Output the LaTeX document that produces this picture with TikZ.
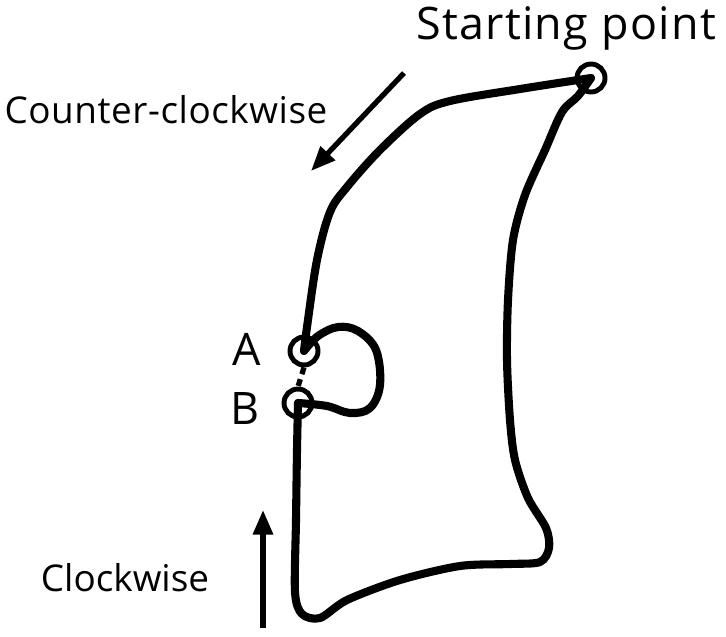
\documentclass[tikz,border=0pt]{standalone}
\usepackage{fontspec}
\setmainfont{Open Sans}
\usetikzlibrary{arrows.meta}
\begin{document}
\begin{tikzpicture}[x=0.02cm,y=-0.02cm,
  route/.style={line width=4.6pt,line cap=round,line join=round},
  marker/.style={circle,draw,line width=2.8pt,minimum size=28*0.02cm,inner sep=0pt},
  dirarrow/.style={line width=3pt,-{Triangle[length=14pt,width=11pt]}},
  lbl/.style={font=\fontsize{21.5}{24}\selectfont,inner sep=0pt}]
\useasboundingbox (0,0) rectangle (726,636);
% markers
\node[marker] (S) at (591,78) {};
\node[marker] (A) at (304,351) {};
\node[marker] (B) at (298,403) {};
% labels
\node[lbl,font=\fontsize{25.5}{28}\selectfont\addfontfeatures{LetterSpace=3}] (ts) at (566,28) {Starting point};
\node[lbl,font=\fontsize{21}{24}\selectfont\addfontfeatures{LetterSpace=1.5}] (tcc) at (166,110) {Counter-clockwise};
\node[lbl,font=\fontsize{21}{24}\selectfont] (tc) at (125,578) {Clockwise};
\node[lbl,font=\fontsize{25.5}{28}\selectfont] (ta) at (247,349) {A};
\node[lbl,font=\fontsize{25.5}{28}\selectfont] (tb) at (245,408) {B};
% route: start -> A (counter-clockwise side)
\draw[route] plot[smooth,tension=0.55] coordinates {(S.center) (520,89) (450,101) (420,114) (380,150) (347,187) (330,212) (317,260) (307,327) (A.center)};
% loop A -> B
\draw[route] plot[smooth,tension=0.6] coordinates {(A.center) (318,336) (338,327) (358,331) (376,350) (380,385) (370,408) (350,413) (327,406) (B.center)};
% dotted link
\draw[line width=3pt,dash pattern=on 4pt off 3pt] (A.south) -- (B.north);
% route: B -> bottom -> right side -> start
\draw[route] plot[smooth,tension=0.5] coordinates {(B.center) (297,450) (296,520) (295,592) (302,614) (320,618) (347,600) (400,580) (460,566) (510,564) (540,562) (549,548) (546,528) (528,498) (515,460) (510,420) (507,360) (508,300) (513,240) (525,195) (545,150) (562,112) (578,96) (S.center)};
% direction arrows
\coordinate (ccs) at (404,73);
\coordinate (cce) at (311,171);
\draw[dirarrow] (ccs) -- (cce);
\coordinate (cws) at (263,628);
\coordinate (cwe) at (263,510);
\draw[dirarrow] (cws) -- (cwe);
\end{tikzpicture}
\end{document}
